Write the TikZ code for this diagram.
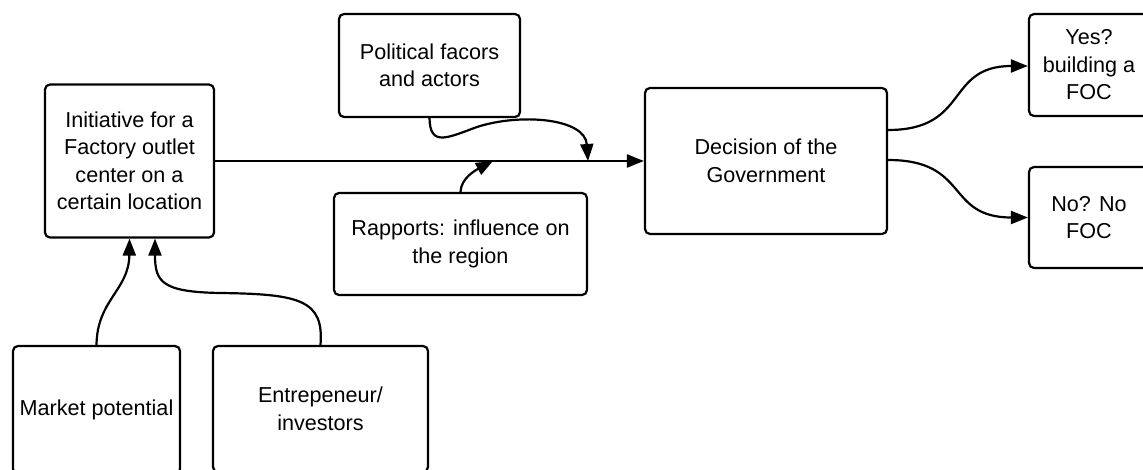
\documentclass[tikz,border=0pt]{standalone}
\usepackage{fontspec}
\setmainfont{Liberation Sans}
\usetikzlibrary{arrows.meta}
\tikzset{
  box/.style={draw=black, line width=2.2pt, rounded corners=5pt, align=center, inner sep=0pt,
              font=\fontsize{21.6}{27.5}\selectfont},
  conn/.style={line width=2.2pt, -{Triangle[length=17pt,width=13pt]}}
}
\begin{document}
\begin{tikzpicture}[x=1pt,y=-1pt]
\useasboundingbox (0,0) rectangle (1143,470);
\clip (0,0) rectangle (1143,470);
\node[box, minimum width=169pt, minimum height=153pt] (init) at (129.5,161) {Initiative for a\\Factory outlet\\center on a\\certain location};
\node[box, minimum width=181pt, minimum height=103pt] (pol) at (429.5,65.5) {Political facors\\and actors};
\node[box, minimum width=253pt, minimum height=102pt] (rap) at (460.5,244) {Rapports: influence on\\the region};
\node[box, minimum width=242pt, minimum height=146pt] (dec) at (766,161) {Decision of the\\Government};
\node[box, minimum width=120pt, minimum height=102pt] (yes) at (1089,65) {Yes?\\building a\\FOC};
\node[box, minimum width=120pt, minimum height=101pt] (no) at (1089,217.5) {No? No\\FOC};
\node[box, minimum width=167pt, minimum height=128pt] (mkt) at (96.5,410) {Market potential};
\node[box, minimum width=215pt, minimum height=126pt] (ent) at (320.5,409) {Entrepeneur/\\investors};
\coordinate (j1) at (588,161);
\coordinate (j2) at (493,161);
\draw[conn] (init.east) -- (dec.west);
\draw[conn] (pol.south) .. controls (430,147) and (447,138) .. (477,127) .. controls (520,113) and (585,118) .. (j1);
\draw[conn] (rap.north) .. controls (461,178) and (476,170) .. (j2);
\draw[conn] (mkt.north) .. controls (97,300) and (129,290) .. (init.south);
\draw[conn] (ent.north) .. controls (324,300) and (300,294) .. (220,293) .. controls (162,292) and (155,282) .. ([xshift=25.5pt]init.south);
\draw[conn] ([yshift=31pt]dec.east) .. controls (970,130) and (945,66) .. ([yshift=-1pt]yes.west);
\draw[conn] ([yshift=1pt]dec.east) .. controls (970,160) and (945,217.5) .. (no.west);
\end{tikzpicture}
\end{document}
